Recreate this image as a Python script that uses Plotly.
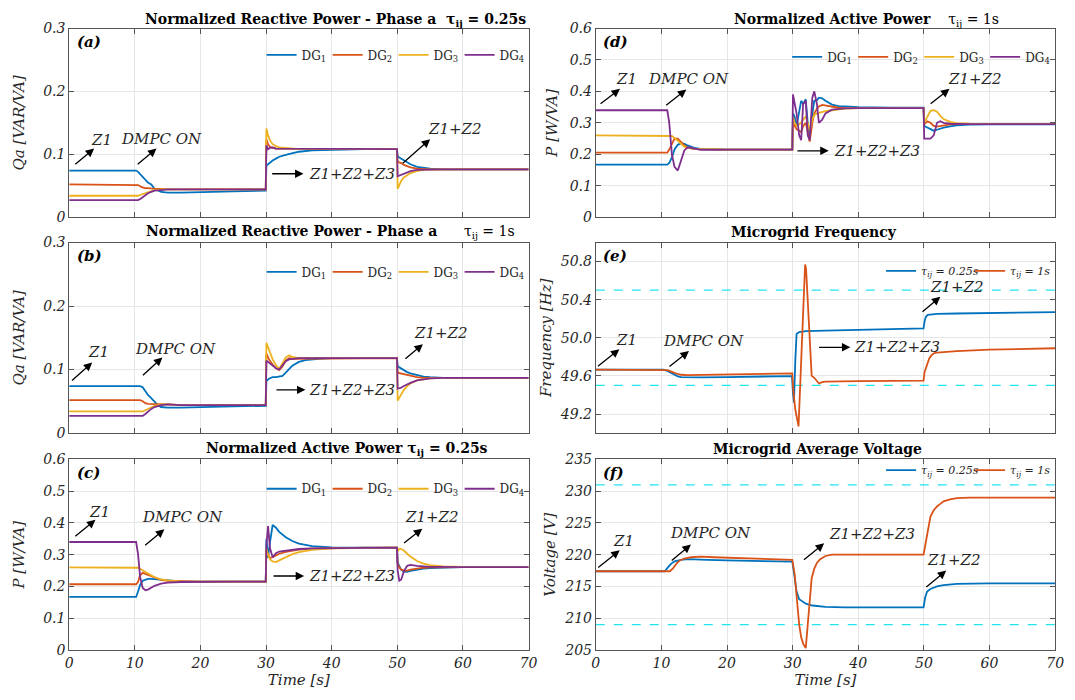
import plotly.graph_objects as go

# ======================= DATA =======================
TIME_TICKS = [0, 10, 20, 30, 40, 50, 60, 70]
DG_NAMES = ["DG<sub>1</sub>", "DG<sub>2</sub>", "DG<sub>3</sub>", "DG<sub>4</sub>"]
TAU_NAMES = ["<i>τ<sub>ij</sub> = 0.25s</i>", "<i>τ<sub>ij</sub> = 1s</i>"]
Q_TICKS = [0, 0.1, 0.2, 0.3]
P_TICKS = [0, 0.1, 0.2, 0.3, 0.4, 0.5, 0.6]
F_TICKS = [49.2, 49.6, 50.0, 50.4, 50.8]
V_TICKS = [205, 210, 215, 220, 225, 230, 235]
F_LIMITS = [49.5, 50.5]
V_LIMITS = [209, 231]

# (a) Normalized reactive power - phase a, tau = 0.25 s
T_QA_025 = [0, 10.2, 10.5, 11, 11.5, 12, 12.5, 13, 14, 15, 17, 20, 25, 29.95,
            30.05, 30.3, 30.6, 31, 31.5, 32, 33, 34, 35, 37, 40, 45, 49.95,
            50.05, 50.3, 50.6, 51, 51.5, 52, 53, 54, 55, 57, 60, 70]
QA_025_DG1 = [0.074, 0.074, 0.072, 0.066, 0.060, 0.055, 0.052, 0.045, 0.040, 0.039, 0.039, 0.040, 0.041, 0.042,
              0.082, 0.084, 0.087, 0.090, 0.093, 0.096, 0.099, 0.102, 0.104, 0.106, 0.107, 0.108, 0.108,
              0.097, 0.095, 0.093, 0.090, 0.087, 0.084, 0.080, 0.078, 0.077, 0.076, 0.076, 0.076]
QA_025_DG2 = [0.052, 0.052, 0.051, 0.048, 0.046, 0.046, 0.045, 0.045, 0.045, 0.044, 0.044, 0.044, 0.044, 0.044,
              0.124, 0.116, 0.112, 0.110, 0.109, 0.109, 0.108, 0.108, 0.108, 0.108, 0.108, 0.108, 0.108,
              0.088, 0.087, 0.086, 0.083, 0.081, 0.079, 0.077, 0.076, 0.076, 0.076, 0.076, 0.076]
QA_025_DG3 = [0.034, 0.034, 0.034, 0.036, 0.038, 0.040, 0.042, 0.043, 0.044, 0.044, 0.044, 0.044, 0.044, 0.044,
              0.141, 0.130, 0.122, 0.116, 0.113, 0.111, 0.110, 0.109, 0.108, 0.108, 0.108, 0.108, 0.108,
              0.045, 0.052, 0.058, 0.063, 0.067, 0.070, 0.073, 0.075, 0.0755, 0.076, 0.076, 0.076]
QA_025_DG4 = [0.027, 0.027, 0.027, 0.030, 0.034, 0.038, 0.040, 0.042, 0.043, 0.044, 0.044, 0.044, 0.044, 0.044,
              0.114, 0.108, 0.110, 0.111, 0.109, 0.109, 0.108, 0.108, 0.108, 0.108, 0.108, 0.108, 0.108,
              0.065, 0.066, 0.068, 0.070, 0.072, 0.073, 0.075, 0.0755, 0.076, 0.076, 0.076, 0.076]

# (b) Normalized reactive power - phase a, tau = 1 s
T_QA_1 = [0, 10.8, 11.2, 11.6, 12, 12.5, 13, 13.5, 14, 15, 17, 20, 25, 29.95,
          30.05, 30.5, 31, 31.5, 32, 32.5, 33, 33.5, 34, 35, 36, 38, 40, 45, 49.95,
          50.05, 50.5, 51, 51.5, 52, 53, 54, 55, 57, 60, 70]
QA_1_DG1 = [0.074, 0.074, 0.072, 0.066, 0.060, 0.055, 0.050, 0.044, 0.041, 0.040, 0.040, 0.041, 0.042, 0.043,
            0.082, 0.086, 0.088, 0.088, 0.089, 0.090, 0.095, 0.101, 0.106, 0.112, 0.115, 0.117, 0.118, 0.118, 0.118,
            0.105, 0.102, 0.099, 0.096, 0.094, 0.091, 0.089, 0.088, 0.087, 0.087, 0.087]
QA_1_DG2 = [0.052, 0.052, 0.050, 0.047, 0.046, 0.046, 0.046, 0.045, 0.045, 0.045, 0.044, 0.044, 0.044, 0.044,
            0.125, 0.115, 0.108, 0.102, 0.099, 0.105, 0.114, 0.118, 0.117, 0.117, 0.118, 0.118, 0.118, 0.118, 0.118,
            0.095, 0.094, 0.092, 0.091, 0.090, 0.088, 0.087, 0.087, 0.087, 0.087, 0.087]
QA_1_DG3 = [0.034, 0.034, 0.034, 0.036, 0.038, 0.041, 0.043, 0.044, 0.045, 0.045, 0.044, 0.044, 0.044, 0.044,
            0.142, 0.128, 0.116, 0.107, 0.101, 0.110, 0.119, 0.122, 0.120, 0.118, 0.118, 0.118, 0.118, 0.118, 0.118,
            0.051, 0.060, 0.068, 0.074, 0.078, 0.083, 0.085, 0.086, 0.087, 0.087, 0.087]
QA_1_DG4 = [0.027, 0.027, 0.027, 0.030, 0.034, 0.038, 0.041, 0.043, 0.044, 0.045, 0.044, 0.044, 0.044, 0.044,
            0.114, 0.110, 0.106, 0.102, 0.100, 0.106, 0.113, 0.116, 0.117, 0.118, 0.118, 0.118, 0.118, 0.118, 0.118,
            0.070, 0.071, 0.074, 0.077, 0.079, 0.083, 0.085, 0.086, 0.087, 0.087, 0.087]

# (c) Normalized active power, tau = 0.25 s
T_P_025 = [0, 10.2, 10.5, 10.8, 11.2, 11.6, 12, 12.5, 13, 14, 15, 17, 20, 25, 29.95,
           30.05, 30.3, 30.6, 31, 31.5, 32, 33, 34, 35, 37, 40, 45, 49.95,
           50.05, 50.3, 50.6, 51, 51.5, 52, 53, 54, 55, 57, 60, 70]
P_025_DG1 = [0.167, 0.167, 0.185, 0.205, 0.218, 0.222, 0.224, 0.224, 0.223, 0.220, 0.218, 0.216, 0.215, 0.215, 0.215,
             0.35, 0.29, 0.34, 0.394, 0.385, 0.372, 0.355, 0.343, 0.335, 0.327, 0.323, 0.322, 0.322,
             0.275, 0.262, 0.252, 0.247, 0.246, 0.249, 0.253, 0.256, 0.258, 0.260, 0.261, 0.261]
P_025_DG2 = [0.207, 0.207, 0.215, 0.235, 0.243, 0.240, 0.236, 0.231, 0.227, 0.221, 0.218, 0.216, 0.215, 0.215, 0.215,
             0.32, 0.30, 0.29, 0.292, 0.298, 0.303, 0.309, 0.313, 0.316, 0.319, 0.321, 0.322, 0.322,
             0.27, 0.26, 0.253, 0.25, 0.25, 0.253, 0.257, 0.259, 0.26, 0.261, 0.261, 0.261]
P_025_DG3 = [0.26, 0.26, 0.259, 0.256, 0.251, 0.246, 0.240, 0.234, 0.229, 0.222, 0.219, 0.216, 0.215, 0.215, 0.215,
             0.32, 0.30, 0.285, 0.279, 0.277, 0.282, 0.293, 0.302, 0.308, 0.315, 0.320, 0.322, 0.322,
             0.31, 0.319, 0.318, 0.313, 0.303, 0.294, 0.280, 0.272, 0.267, 0.263, 0.262, 0.261]
P_025_DG4 = [0.34, 0.34, 0.30, 0.23, 0.195, 0.188, 0.190, 0.196, 0.202, 0.209, 0.212, 0.214, 0.215, 0.215, 0.215,
             0.33, 0.39, 0.32, 0.292, 0.305, 0.31, 0.313, 0.316, 0.318, 0.32, 0.321, 0.322, 0.322,
             0.25, 0.218, 0.222, 0.248, 0.265, 0.268, 0.265, 0.263, 0.262, 0.262, 0.261, 0.261]

# (d) Normalized active power, tau = 1 s
T_P_1 = [0, 10.9, 11.2, 11.6, 12, 12.5, 13, 13.5, 14, 14.5, 15, 16, 18, 20, 25, 29.95,
         30.05, 30.3, 30.6, 31, 31.3, 31.6, 32, 32.3, 32.6, 33, 33.3, 33.7, 34, 34.5, 35, 36, 37, 38, 40, 45, 49.95,
         50.05, 50.5, 51, 51.5, 52, 52.5, 53, 54, 55, 57, 60, 70]
P_1_DG1 = [0.167, 0.167, 0.172, 0.19, 0.215, 0.23, 0.235, 0.233, 0.228, 0.223, 0.220, 0.217, 0.216, 0.215, 0.215, 0.215,
           0.33, 0.32, 0.29, 0.33, 0.37, 0.36, 0.375, 0.30, 0.25, 0.33, 0.37, 0.372, 0.38, 0.378, 0.37, 0.358, 0.353, 0.352, 0.350, 0.348, 0.348,
           0.29, 0.285, 0.278, 0.275, 0.278, 0.282, 0.285, 0.289, 0.292, 0.294, 0.295, 0.295]
P_1_DG2 = [0.205, 0.205, 0.215, 0.235, 0.250, 0.250, 0.238, 0.228, 0.222, 0.219, 0.217, 0.216, 0.215, 0.215, 0.215, 0.215,
           0.30, 0.29, 0.28, 0.275, 0.27, 0.29, 0.30, 0.27, 0.24, 0.30, 0.33, 0.345, 0.352, 0.357, 0.355, 0.350, 0.348, 0.347, 0.347, 0.347, 0.347,
           0.295, 0.305, 0.30, 0.29, 0.288, 0.29, 0.293, 0.295, 0.296, 0.296, 0.296, 0.296]
P_1_DG3 = [0.26, 0.26, 0.26, 0.258, 0.252, 0.243, 0.232, 0.224, 0.220, 0.218, 0.217, 0.216, 0.215, 0.215, 0.215, 0.215,
           0.32, 0.30, 0.29, 0.295, 0.30, 0.31, 0.32, 0.30, 0.275, 0.31, 0.325, 0.33, 0.332, 0.335, 0.337, 0.340, 0.343, 0.345, 0.347, 0.347, 0.347,
           0.30, 0.32, 0.338, 0.34, 0.335, 0.322, 0.312, 0.303, 0.299, 0.297, 0.296, 0.296]
P_1_DG4 = [0.34, 0.34, 0.30, 0.20, 0.16, 0.148, 0.18, 0.212, 0.222, 0.220, 0.216, 0.214, 0.214, 0.215, 0.215, 0.215,
           0.39, 0.36, 0.33, 0.26, 0.245, 0.36, 0.37, 0.26, 0.245, 0.38, 0.40, 0.36, 0.30, 0.31, 0.33, 0.342, 0.345, 0.346, 0.347, 0.347, 0.347,
           0.25, 0.25, 0.25, 0.26, 0.30, 0.305, 0.30, 0.297, 0.296, 0.296, 0.296, 0.296]

# (e) Microgrid frequency
T_F_025 = [0, 10.3, 11, 11.5, 12, 12.5, 13, 14, 16, 20, 25, 29.9,
           30.05, 30.2, 30.4, 30.6, 31, 32, 35, 40, 45, 49.95,
           50.1, 50.3, 50.6, 51, 52, 55, 60, 70]
F_025 = [49.665, 49.665, 49.65, 49.63, 49.61, 49.595, 49.588, 49.585, 49.585, 49.588, 49.592, 49.598,
         49.42, 49.32, 49.75, 50.04, 50.06, 50.07, 50.075, 50.085, 50.092, 50.098,
         50.17, 50.22, 50.24, 50.245, 50.25, 50.255, 50.262, 50.27]
T_F_1 = [0, 10.5, 11, 11.5, 12, 12.5, 13, 14, 16, 20, 25, 29.95,
         30.1, 30.4, 30.9, 31.4, 31.9, 32.05, 32.4, 32.9, 33.3, 33.7, 34, 34.5, 35, 40, 45, 49.95,
         50.1, 50.4, 50.8, 51.2, 51.6, 52, 55, 60, 70]
F_1 = [49.665, 49.665, 49.66, 49.645, 49.63, 49.62, 49.612, 49.608, 49.61, 49.615, 49.62, 49.627,
       49.45, 49.25, 49.07, 49.92, 50.77, 50.72, 50.2, 49.6, 49.58, 49.54, 49.52, 49.535, 49.54, 49.545, 49.548, 49.55,
       49.64, 49.70, 49.78, 49.82, 49.84, 49.845, 49.86, 49.875, 49.89]

# (f) Microgrid average voltage
T_V_025 = [0, 10.5, 11, 11.5, 12, 13, 14, 15, 17, 20, 25, 29.95,
           30.3, 30.6, 31, 31.5, 32, 33, 35, 38, 42, 49.95,
           50.2, 50.5, 51, 52, 53, 55, 60, 70]
V_025 = [217.4, 217.4, 218.0, 218.6, 218.95, 219.2, 219.3, 219.3, 219.2, 219.1, 219.0, 218.9,
         216.5, 214.2, 213.0, 212.6, 212.3, 212.0, 211.8, 211.7, 211.7, 211.7,
         213.3, 214.2, 214.6, 215.0, 215.2, 215.4, 215.5, 215.5]
T_V_1 = [0, 11.3, 11.8, 12.3, 12.8, 13.5, 14.5, 16, 18, 22, 26, 29.95,
         30.3, 30.6, 31, 31.3, 31.6, 32, 32.3, 32.6, 32.9, 33.3, 33.7, 34.2, 35, 36, 40, 49.95,
         50.3, 50.6, 51, 51.5, 52, 52.5, 53, 54, 55, 57, 60, 70]
V_1 = [217.4, 217.4, 217.9, 218.6, 219.1, 219.4, 219.6, 219.7, 219.6, 219.5, 219.3, 219.2,
       217.0, 213.0, 209.0, 207.0, 206.0, 205.3, 209.0, 213.5, 216.3, 217.8, 218.7, 219.3, 219.8, 220.0, 220.0, 220.0,
       222.0, 224.0, 226.0, 227.0, 227.6, 228.0, 228.4, 228.7, 228.9, 229.0, 229.0, 229.0]

# ======================= STYLE =======================
COLORS = ["#0072BD", "#D95319", "#EDB120", "#7E2F8E"]
LIMIT_COLOR = "#22E5F0"
FONT = "DejaVu Serif"
TXT = "#262626"
XL = [66 / 1075, 531 / 1075]
XR = [599 / 1075, 1064 / 1075]
ROWS = [[1 - 214 / 700, 1 - 21 / 700], [1 - 435 / 700, 1 - 240 / 700], [1 - 657 / 700, 1 - 462 / 700]]

fig = go.Figure()

panels = [
    dict(n=1, xd=XL, yd=ROWS[0], yr=[0, 0.3], yt=Q_TICKS, ytitle="Qa [VAR/VA]", lab="(a)", fmt=None, so=14),
    dict(n=2, xd=XL, yd=ROWS[1], yr=[0, 0.3], yt=Q_TICKS, ytitle="Qa [VAR/VA]", lab="(b)", fmt=None, so=14),
    dict(n=3, xd=XL, yd=ROWS[2], yr=[0, 0.6], yt=P_TICKS, ytitle="P [W/VA]", lab="(c)", fmt=None, so=14),
    dict(n=4, xd=XR, yd=ROWS[0], yr=[0, 0.6], yt=P_TICKS, ytitle="P [W/VA]", lab="(d)", fmt=None, so=8),
    dict(n=5, xd=XR, yd=ROWS[1], yr=[49.0, 51.0], yt=F_TICKS, ytitle="Frequency [Hz]", lab="(e)", fmt=".1f", so=4),
    dict(n=6, xd=XR, yd=ROWS[2], yr=[205, 235], yt=V_TICKS, ytitle="Voltage [V]", lab="(f)", fmt=None, so=4),
]

tickfont = dict(family=FONT, size=14, color=TXT, style="italic")
layout_axes = {}
annotations = []
for p in panels:
    n = p["n"]
    xa = "xaxis" if n == 1 else f"xaxis{n}"
    ya = "yaxis" if n == 1 else f"yaxis{n}"
    xr = "x" if n == 1 else f"x{n}"
    yr = "y" if n == 1 else f"y{n}"
    bottom = n in (3, 6)
    layout_axes[xa] = dict(
        domain=p["xd"], anchor=yr, range=[0, 70], tickvals=TIME_TICKS,
        showticklabels=bottom, showgrid=True, gridcolor="#e6e6e6", gridwidth=1,
        showline=True, linecolor="#555555", linewidth=1, mirror="allticks",
        ticks="inside", ticklen=5, tickcolor="#555555", zeroline=False,
        tickfont=tickfont,
        title=dict(text="<i>Time [s]</i>" if bottom else "", font=dict(family=FONT, size=15, color=TXT), standoff=2),
    )
    yax = dict(
        domain=p["yd"], anchor=xr, range=p["yr"], tickvals=p["yt"],
        showgrid=True, gridcolor="#e6e6e6", gridwidth=1,
        showline=True, linecolor="#555555", linewidth=1, mirror="allticks",
        ticks="inside", ticklen=5, tickcolor="#555555", zeroline=False,
        tickfont=tickfont,
        title=dict(text=f"<i>{p['ytitle']}</i>", font=dict(family=FONT, size=15, color=TXT), standoff=p["so"]),
    )
    if p["fmt"]:
        yax["tickformat"] = p["fmt"]
    layout_axes[ya] = yax
    annotations.append(dict(
        text=f"<b><i>{p['lab']}</i></b>", xref=f"{xr} domain", yref=f"{yr} domain",
        x=0.012, y=0.985, xanchor="left", yanchor="top", showarrow=False,
        font=dict(family=FONT, size=15, color="black")))

# ---------------- traces ----------------
dg_sets = [
    (1, T_QA_025, [QA_025_DG1, QA_025_DG2, QA_025_DG3, QA_025_DG4], "legend"),
    (2, T_QA_1, [QA_1_DG1, QA_1_DG2, QA_1_DG3, QA_1_DG4], "legend2"),
    (3, T_P_025, [P_025_DG1, P_025_DG2, P_025_DG3, P_025_DG4], "legend3"),
    (4, T_P_1, [P_1_DG1, P_1_DG2, P_1_DG3, P_1_DG4], "legend4"),
]
for n, t, series, leg in dg_sets:
    xr = "x" if n == 1 else f"x{n}"
    yr = "y" if n == 1 else f"y{n}"
    for i, vals in enumerate(series):
        fig.add_trace(go.Scatter(x=t, y=vals, mode="lines", name=DG_NAMES[i],
                                 line=dict(color=COLORS[i], width=1.8),
                                 xaxis=xr, yaxis=yr, legend=leg))

for n, lims, sets, leg in [
    (5, F_LIMITS, [(T_F_025, F_025), (T_F_1, F_1)], "legend5"),
    (6, V_LIMITS, [(T_V_025, V_025), (T_V_1, V_1)], "legend6"),
]:
    for lim in lims:
        fig.add_trace(go.Scatter(x=[TIME_TICKS[0], TIME_TICKS[-1]], y=[lim, lim], mode="lines",
                                 line=dict(color=LIMIT_COLOR, width=1.4, dash="dash"),
                                 xaxis=f"x{n}", yaxis=f"y{n}", showlegend=False, hoverinfo="skip"))
    for i, (t, v) in enumerate(sets):
        fig.add_trace(go.Scatter(x=t, y=v, mode="lines", name=TAU_NAMES[i],
                                 line=dict(color=COLORS[i], width=1.8),
                                 xaxis=f"x{n}", yaxis=f"y{n}", legend=leg))

# ---------------- titles ----------------
titles = [
    ("<b>Normalized Reactive Power - Phase a  τ<sub>ij</sub> = 0.25s</b>", 336 / 1075, 1 - 12 / 700),
    ("<b>Normalized Reactive Power - Phase a</b>      τ<sub>ij</sub> = 1s", 330 / 1075, 1 - 229 / 700),
    ("<b>Normalized Active Power τ<sub>ij</sub> = 0.25s</b>", 347 / 1075, 1 - 451 / 700),
    ("<b>Normalized Active Power</b>    τ<sub>ij</sub> = 1s", 873 / 1075, 1 - 12 / 700),
    ("<b>Microgrid Frequency</b>", 820 / 1075, 1 - 229 / 700),
    ("<b>Microgrid Average Voltage</b>", 823 / 1075, 1 - 451 / 700),
]
for txt, x, y in titles:
    annotations.append(dict(text=txt, xref="paper", yref="paper", x=x, y=y,
                            xanchor="center", yanchor="middle", showarrow=False,
                            font=dict(family=FONT, size=14, color="black")))

# ---------------- event annotations ----------------
# (panel, text, text_x, text_y, tail_x, tail_y, head_x, head_y, text_anchor)
events = [
    (1, "Z1", 4.9, 0.123, 0.7, 0.082, 3.8, 0.109, "center"),
    (1, "DMPC ON", 14.05, 0.125, 10.2, 0.082, 13.3, 0.109, "center"),
    (1, "Z1+Z2+Z3", 36.2, 0.069, 30.7, 0.069, 35.7, 0.069, "left"),
    (1, "Z1+Z2", 58.8, 0.140, 50.6, 0.0836, 55.0, 0.124, "center"),
    (2, "Z1", 4.5, 0.127, 0.2, 0.0805, 3.5, 0.111, "center"),
    (2, "DMPC ON", 16.25, 0.133, 11.0, 0.089, 14.2, 0.119, "center"),
    (2, "Z1+Z2+Z3", 36.3, 0.068, 31.35, 0.068, 36.0, 0.068, "left"),
    (2, "Z1+Z2", 56.6, 0.157, 51.0, 0.115, 53.9, 0.140, "center"),
    (3, "Z1", 4.6, 0.436, 0.7, 0.354, 4.0, 0.41, "center"),
    (3, "DMPC ON", 17.3, 0.42, 11.35, 0.326, 14.5, 0.38, "center"),
    (3, "Z1+Z2+Z3", 36.25, 0.233, 30.9, 0.233, 35.8, 0.233, "left"),
    (3, "Z1+Z2", 55.3, 0.42, 50.8, 0.333, 53.8, 0.382, "center"),
    (4, "Z1", 4.7, 0.439, 0.5, 0.357, 3.7, 0.408, "center"),
    (4, "DMPC ON", 14.2, 0.439, 10.5, 0.352, 13.8, 0.406, "center"),
    (4, "Z1+Z2+Z3", 36.0, 0.211, 30.5, 0.211, 35.5, 0.211, "left"),
    (4, "Z1+Z2", 57.8, 0.439, 50.8, 0.357, 53.9, 0.408, "center"),
    (5, "Z1", 4.7, 49.98, 0.1, 49.69, 3.6, 49.88, "center"),
    (5, "DMPC ON", 16.45, 49.97, 11.0, 49.685, 14.2, 49.86, "center"),
    (5, "Z1+Z2+Z3", 39.0, 49.90, 33.8, 49.90, 38.8, 49.90, "left"),
    (5, "Z1+Z2", 55.1, 50.53, 49.56, 50.26, 52.5, 50.43, "center"),
    (6, "Z1", 4.2, 222.2, 0.15, 217.8, 3.65, 220.7, "center"),
    (6, "DMPC ON", 17.5, 223.4, 11.35, 218.9, 14.5, 221.6, "center"),
    (6, "Z1+Z2+Z3", 42.1, 223.2, 31.5, 219.0, 34.8, 221.8, "center"),
    (6, "Z1+Z2", 54.6, 219.1, 50.15, 214.7, 53.4, 217.5, "center"),
]
for n, txt, tx, ty, ax, ay, hx, hy, anc in events:
    xr = "x" if n == 1 else f"x{n}"
    yr = "y" if n == 1 else f"y{n}"
    annotations.append(dict(text="", x=hx, y=hy, xref=xr, yref=yr, ax=ax, ay=ay,
                            axref=xr, ayref=yr, showarrow=True, arrowhead=2,
                            arrowsize=1.3, arrowwidth=1.3, arrowcolor="black"))
    annotations.append(dict(text=f"<i>{txt}</i>", x=tx, y=ty, xref=xr, yref=yr,
                            xanchor=anc, yanchor="middle", showarrow=False,
                            font=dict(family=FONT, size=15, color=TXT)))

# ---------------- legends ----------------
def legend_cfg(x, y, size=12, ew=None):
    d = dict(orientation="h", x=x, y=y, xanchor="right", yanchor="middle",
             bgcolor="rgba(255,255,255,0)", borderwidth=0,
             font=dict(family=FONT, size=size, color=TXT), tracegroupgap=0)
    if ew:
        d["entrywidth"] = ew
        d["entrywidthmode"] = "pixels"
    return d

fig.update_layout(
    width=1075, height=700, margin=dict(l=0, r=0, t=0, b=0),
    paper_bgcolor="white", plot_bgcolor="white",
    annotations=annotations,
    legend=legend_cfg(528 / 1075, 1 - 48 / 700, ew=21),
    legend2=legend_cfg(528 / 1075, 1 - 270 / 700, ew=21),
    legend3=legend_cfg(528 / 1075, 1 - 492 / 700, ew=21),
    legend4=legend_cfg(1060 / 1075, 1 - 50 / 700, ew=21),
    legend5=legend_cfg(1068 / 1075, 1 - 269 / 700, size=11, ew=44),
    legend6=legend_cfg(1068 / 1075, 1 - 473 / 700, size=11, ew=44),
    **layout_axes,
)

fig.write_html("out.html")
